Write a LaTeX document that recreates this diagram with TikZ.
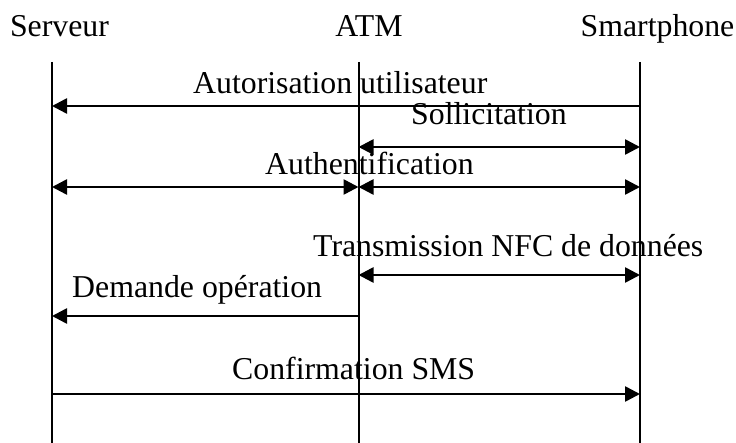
\documentclass[tikz,border=0pt]{standalone}
\usepackage{fontspec}
\setmainfont{Liberation Serif}
\usetikzlibrary{arrows.meta}

\begin{document}
\begin{tikzpicture}[x=1pt, y=-1pt, font=\fontsize{31.8}{36}\selectfont,
            actor/.style={anchor=base, inner sep=0pt},
            lifeline/.style={line width=2pt},
            msg/.style={line width=2.6pt, -{Triangle[length=15pt,width=15pt]}},
            bimsg/.style={line width=2.6pt,
                          {Triangle[length=15pt,width=15pt]}-{Triangle[length=15pt,width=15pt]}},
            lbl/.style={anchor=base west, inner sep=0pt}]
            \useasboundingbox (0,0) rectangle (736,443);
            \node[actor] (srv) at (59.5,37) {Serveur};
            \node[actor] (atm) at (369,37) {ATM};
            \node[actor] (phn) at (657.5,37) {Smartphone};
            \coordinate (srvtop) at (52,62);   \coordinate (srvbot) at (52,443);
            \coordinate (atmtop) at (358.5,62); \coordinate (atmbot) at (358.5,443);
            \coordinate (phntop) at (640,62);  \coordinate (phnbot) at (640,443);
            \draw[lifeline] (srvtop) -- (srvbot);
            \draw[lifeline] (atmtop) -- (atmbot);
            \draw[lifeline] (phntop) -- (phnbot);
            \coordinate (m1) at (0,106);
            \coordinate (m2) at (0,147);
            \coordinate (m3) at (0,187);
            \coordinate (m4) at (0,275);
            \coordinate (m5) at (0,316);
            \coordinate (m6) at (0,394);
            \draw[msg] (phntop |- m1) -- (srvtop |- m1);
            \node[lbl] (l1) at (193,94) {Autorisation utilisateur};
            \draw[bimsg] (atmtop |- m2) -- (phntop |- m2);
            \node[lbl] (l2) at (411,125) {Sollicitation};
            \draw[bimsg] (srvtop |- m3) -- (atmtop |- m3);
            \draw[bimsg] (atmtop |- m3) -- (phntop |- m3);
            \node[lbl] (l3) at (265,175) {Authentification};
            \draw[bimsg] (atmtop |- m4) -- (phntop |- m4);
            \node[lbl] (l4) at (313,257) {Transmission NFC de données};
            \draw[msg] (atmtop |- m5) -- (srvtop |- m5);
            \node[lbl] (l5) at (72,298) {Demande opération};
            \draw[msg] (srvtop |- m6) -- (phntop |- m6);
            \node[lbl] (l6) at (232,380) {Confirmation SMS};
          \end{tikzpicture}
\end{document}
